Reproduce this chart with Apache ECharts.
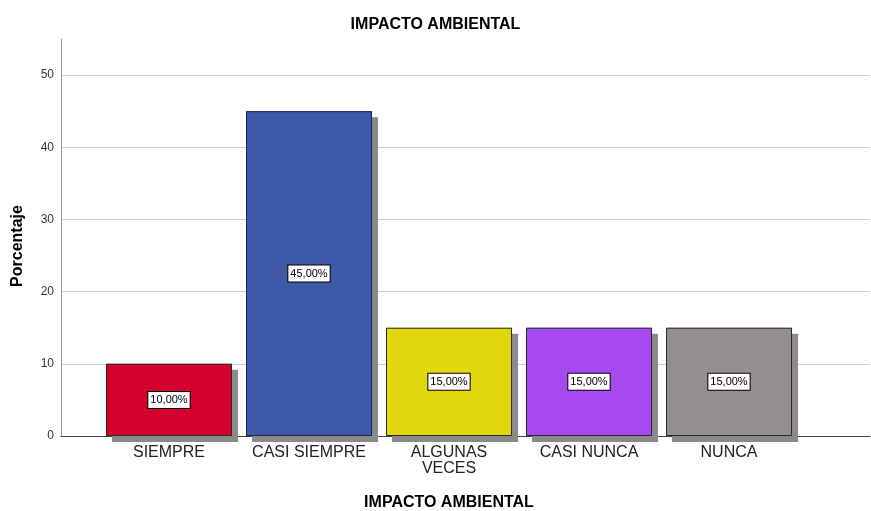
<!DOCTYPE html>
<html>
<head>
<meta charset="utf-8">
<script src="https://cdn.jsdelivr.net/npm/echarts@6/dist/echarts.min.js"></script>
<style>html,body{margin:0;padding:0;background:#fff}#c{width:871px;height:511px}</style>
</head>
<body>
<div id="c"></div>
<script>
const categories = ['SIEMPRE', 'CASI SIEMPRE', 'ALGUNAS\nVECES', 'CASI NUNCA', 'NUNCA'];
const values = [10, 45, 15, 15, 15];
const barColors = ['#d6002e', '#3d59a8', '#e2d70d', '#a64af0', '#948e8e'];
const yTicks = [0, 10, 20, 30, 40, 50];
const titleText = 'IMPACTO AMBIENTAL';
const xName = 'IMPACTO AMBIENTAL';
const yName = 'Porcentaje';

const font = 'Arial, "Liberation Sans", sans-serif';
const chart = echarts.init(document.getElementById('c'), null, {renderer: 'canvas'});
const gridTop = 39, gridBottom = 75;
chart.setOption({
  animation: false,
  backgroundColor: '#fff',
  title: {
    text: titleText, left: 'center', top: 12,
    textStyle: {fontFamily: font, fontSize: 16, fontWeight: 'bold', color: '#000'}
  },
  graphic: [{
    type: 'text', x: 18, y: 246, rotation: Math.PI / 2,
    style: {text: yName, fontFamily: font, fontSize: 16, fontWeight: 'bold', fill: '#000', align: 'center', verticalAlign: 'middle'}
  }],
  grid: [
    {left: 61, right: 1, top: gridTop, bottom: gridBottom, outerBoundsMode: 'none', containLabel: false},
    {left: 99, width: 700, top: gridTop, bottom: gridBottom, outerBoundsMode: 'none', containLabel: false}
  ],
  xAxis: [
    {gridIndex: 0, type: 'value', min: 0, max: 1,
     axisLine: {show: true, lineStyle: {color: '#444', width: 1}},
     axisTick: {show: false}, axisLabel: {show: false}, splitLine: {show: false}},
    {gridIndex: 1, type: 'category', data: categories,
     axisLine: {show: false}, axisTick: {show: false},
     axisLabel: {fontFamily: font, fontSize: 16, color: '#222', margin: 9, lineHeight: 16, interval: 0},
     name: xName, nameLocation: 'middle', nameGap: 59,
     nameTextStyle: {fontFamily: font, fontSize: 16, fontWeight: 'bold', color: '#000'}}
  ],
  yAxis: [
    {gridIndex: 0, type: 'value', min: 0, max: 55, interval: 10,
     axisLine: {show: true, lineStyle: {color: '#999', width: 1}},
     axisTick: {show: false, customValues: yTicks},
     axisLabel: {fontFamily: font, fontSize: 12, color: '#333', margin: 7, customValues: yTicks},
     splitLine: {show: true, lineStyle: {color: '#cfcfcf', width: 1}}},
    {gridIndex: 1, type: 'value', min: 0, max: 55, interval: 10, show: false}
  ],
  series: [
    {
      name: 'shadow', type: 'bar', xAxisIndex: 1, yAxisIndex: 1, clip: false,
      barWidth: 126, barGap: '-100%', silent: true,
      data: values.map((v, i) => ({
        value: v,
        itemStyle: {color: barColors[i], borderWidth: 0,
                    shadowColor: '#8a8a8a', shadowBlur: 0, shadowOffsetX: 6, shadowOffsetY: 6}
      }))
    },
    {
      name: 'bars', type: 'bar', xAxisIndex: 1, yAxisIndex: 1, clip: false,
      barWidth: 126, barGap: '-100%',
      data: values.map((v, i) => ({
        value: v,
        itemStyle: {color: barColors[i], borderColor: i === 1 ? '#1a2550' : '#2a2a2a', borderWidth: 1}
      })),
      label: {
        show: true, position: 'inside',
        formatter: p => p.value.toFixed(2).replace('.', ',') + '%',
        fontFamily: font, fontSize: 11, color: '#000',
        backgroundColor: '#fff', borderColor: '#000', borderWidth: 1, padding: [3, 2, 2, 2]
      }
    }
  ]
});
</script>
</body>
</html>
